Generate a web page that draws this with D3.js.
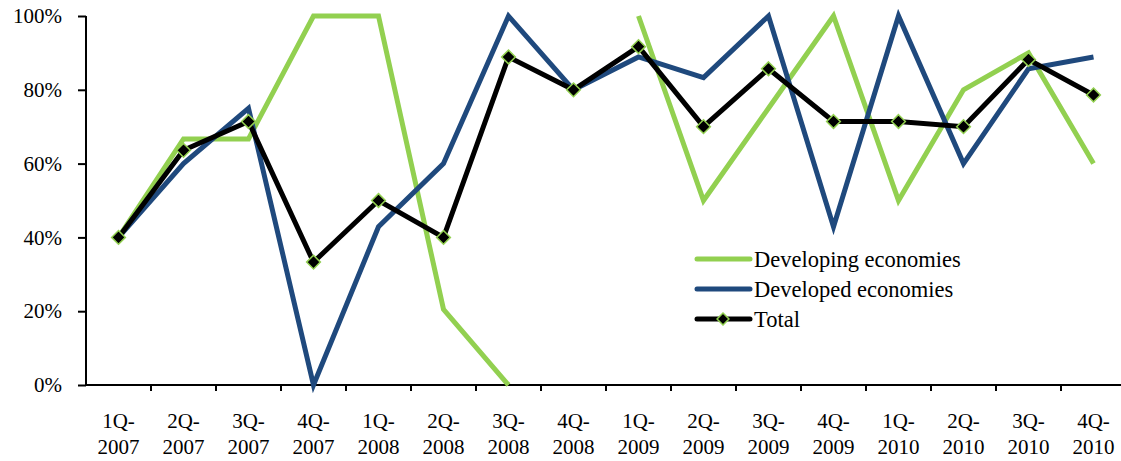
<!DOCTYPE html>
<html>
<head>
<meta charset="utf-8">
<script src="https://cdn.jsdelivr.net/npm/d3@7"></script>
<style>
  html, body { margin: 0; padding: 0; background: #fff; }
  svg { display: block; }
  svg text { font-family: "Liberation Serif", "Times New Roman", Times, serif; }
</style>
</head>
<body>
<div id="chart"></div>
<script>
const quarters = ['1Q-2007', '2Q-2007', '3Q-2007', '4Q-2007', '1Q-2008', '2Q-2008', '3Q-2008', '4Q-2008',
  '1Q-2009', '2Q-2009', '3Q-2009', '4Q-2009', '1Q-2010', '2Q-2010', '3Q-2010', '4Q-2010'];
const developing = [40, 66.7, 66.7, 100, 100, 20.5, 0, null, 100, 50, 75, 100, 50, 80, 90, 60];
const developed = [40, 60, 75, 0, 42.9, 60, 100, 80, 88.9, 83.3, 100, 42.9, 100, 60, 85.7, 88.9];
const total = [40, 63.6, 71.4, 33.3, 50, 40, 88.9, 80, 91.7, 70, 85.7, 71.4, 71.4, 70, 88.2, 78.6];
const yTicks = [0, 20, 40, 60, 80, 100];

const width = 1121;
const height = 461;
const green = '#92D050';
const blue = '#1F497D';
const font = '"Liberation Serif", "Times New Roman", Times, serif';

const svg = d3.select('#chart').append('svg')
  .attr('width', width)
  .attr('height', height);

const x = d3.scaleBand().domain(quarters).range([86, 1126]).padding(0);
const y = d3.scaleLinear().domain([0, 100]).range([385, 16]);

// y axis
const yAxis = svg.append('g')
  .attr('transform', 'translate(86,0)')
  .call(d3.axisLeft(y).tickValues(yTicks).tickSize(8).tickPadding(16).tickFormat(d => d + '%'));
yAxis.attr('font-family', font);
yAxis.select('.domain').attr('stroke', '#000').attr('stroke-width', 2).attr('d', `M0,${y(0)}V${y(100)}`);
yAxis.selectAll('.tick line').attr('stroke', '#000').attr('stroke-width', 2);
yAxis.selectAll('.tick text')
  .attr('font-family', font)
  .attr('font-size', 21)
  .attr('fill', '#000');

// x axis: line plus ticks on the category boundaries
const xAxis = svg.append('g');
xAxis.append('line')
  .attr('x1', 86).attr('x2', width)
  .attr('y1', y(0)).attr('y2', y(0))
  .attr('stroke', '#000').attr('stroke-width', 2);
xAxis.selectAll('line.tick')
  .data(quarters.slice(1))
  .enter().append('line')
  .attr('class', 'tick')
  .attr('x1', d => x(d)).attr('x2', d => x(d))
  .attr('y1', y(0)).attr('y2', y(0) + 6)
  .attr('stroke', '#000').attr('stroke-width', 2);

const cx = d => x(d) + x.bandwidth() / 2;

const labels = xAxis.selectAll('text')
  .data(quarters)
  .enter().append('text')
  .attr('text-anchor', 'middle')
  .attr('font-family', font)
  .attr('font-size', 21)
  .attr('fill', '#000');
labels.append('tspan')
  .attr('x', cx)
  .attr('y', 428)
  .text(d => d.split('-')[0] + '-');
labels.append('tspan')
  .attr('x', cx)
  .attr('y', 454)
  .text(d => d.split('-')[1]);

const line = d3.line()
  .defined(d => d.value != null)
  .x(d => cx(d.q))
  .y(d => y(d.value));

function toPoints(values) {
  return quarters.map((q, i) => ({ q, value: values[i] }));
}

svg.append('path')
  .datum(toPoints(developing))
  .attr('fill', 'none')
  .attr('stroke', green)
  .attr('stroke-width', 5)
  .attr('d', line);

svg.append('path')
  .datum(toPoints(developed))
  .attr('fill', 'none')
  .attr('stroke', blue)
  .attr('stroke-width', 5)
  .attr('d', line);

svg.append('path')
  .datum(toPoints(total))
  .attr('fill', 'none')
  .attr('stroke', '#000')
  .attr('stroke-width', 5)
  .attr('d', line);

const diamond = d3.symbol().type(d3.symbolDiamond2).size(120);

svg.selectAll('path.marker')
  .data(toPoints(total))
  .enter().append('path')
  .attr('class', 'marker')
  .attr('transform', d => `translate(${cx(d.q)},${y(d.value)})`)
  .attr('d', diamond)
  .attr('fill', '#000')
  .attr('stroke', green)
  .attr('stroke-width', 1.5);

// legend
const legendItems = [
  { name: 'Developing economies', color: green, marker: false },
  { name: 'Developed economies', color: blue, marker: false },
  { name: 'Total', color: '#000', marker: true }
];
const legend = svg.append('g').attr('transform', 'translate(697,259)');
const item = legend.selectAll('g')
  .data(legendItems)
  .enter().append('g')
  .attr('transform', (d, i) => `translate(0,${i * 30})`);
item.append('line')
  .attr('x1', 0).attr('x2', 53)
  .attr('stroke', d => d.color)
  .attr('stroke-width', 5)
  .attr('stroke-linecap', 'round');
item.filter(d => d.marker).append('path')
  .attr('transform', 'translate(26,0)')
  .attr('d', d3.symbol().type(d3.symbolDiamond2).size(90))
  .attr('fill', '#000')
  .attr('stroke', green)
  .attr('stroke-width', 1.5);
item.append('text')
  .attr('x', 57)
  .attr('y', 8)
  .attr('font-family', font)
  .attr('font-size', 22.5)
  .attr('fill', '#000')
  .text(d => d.name);
</script>
</body>
</html>
